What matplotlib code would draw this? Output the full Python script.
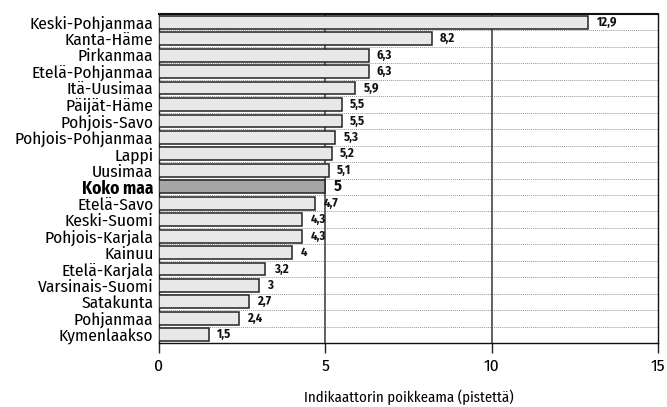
import matplotlib
matplotlib.use("Agg")
import matplotlib.pyplot as plt

regions = ["Keski-Pohjanmaa", "Kanta-Häme", "Pirkanmaa", "Etelä-Pohjanmaa", "Itä-Uusimaa",
           "Päijät-Häme", "Pohjois-Savo", "Pohjois-Pohjanmaa", "Lappi", "Uusimaa",
           "Koko maa", "Etelä-Savo", "Keski-Suomi", "Pohjois-Karjala", "Kainuu",
           "Etelä-Karjala", "Varsinais-Suomi", "Satakunta", "Pohjanmaa", "Kymenlaakso"]
values = [12.9, 8.2, 6.3, 6.3, 5.9, 5.5, 5.5, 5.3, 5.2, 5.1,
          5.0, 4.7, 4.3, 4.3, 4.0, 3.2, 3.0, 2.7, 2.4, 1.5]
value_labels = ["12,9", "8,2", "6,3", "6,3", "5,9", "5,5", "5,5", "5,3", "5,2", "5,1",
                "5", "4,7", "4,3", "4,3", "4", "3,2", "3", "2,7", "2,4", "1,5"]
total_label = "Koko maa"
xticks = [0, 5, 10, 15]
xlabel = "Indikaattorin poikkeama (pistettä)"

plt.rcParams["font.family"] = ["Fira Sans Condensed", "DejaVu Sans"]

fig = plt.figure(figsize=(6.67, 4.07), dpi=100)
ax = fig.add_axes([0.2384, 0.1572, 0.7481, 0.8084])

ypos = list(range(len(regions)))
colors = ["#a6a6a6" if r == total_label else "#e8e8e8" for r in regions]
ax.barh(ypos, values, height=0.78, color=colors, edgecolor="#222222", linewidth=1.1, zorder=3)

for y, v, lab, r in zip(ypos, values, value_labels, regions):
    big = r == total_label
    ax.annotate(lab, (v, y), xytext=(6, 0), textcoords="offset points",
                ha="left", va="center", fontweight="bold",
                fontsize=11.5 if big else 9, color="#111111", zorder=4)

ax.set_ylim(len(regions) - 0.5, -0.5)
ax.set_xlim(0, 15)
ax.set_yticks(ypos)
ax.set_yticklabels(regions, fontsize=12.5)
for t in ax.get_yticklabels():
    if t.get_text() == total_label:
        t.set_fontweight("bold")
ax.tick_params(axis="y", length=0, pad=4)
ax.set_xticks(xticks)
ax.set_xticklabels([str(t) for t in xticks], fontsize=12.5)
ax.tick_params(axis="x", length=7, width=1.0, pad=4, color="#222222")

# dotted separators
for y in range(len(regions)):
    ax.axhline(y - 0.5, color="#999999", linestyle=(0, (1, 1)), linewidth=0.7, zorder=1)
for xv in [5, 10]:
    ax.axvline(xv, color="#555555", linewidth=1.3, zorder=2)

for s in ax.spines.values():
    s.set_color("#111111")
    s.set_linewidth(1.0)
ax.spines["top"].set_linewidth(1.5)

ax.set_xlabel(xlabel, fontsize=10.7, labelpad=11)

fig.savefig("out.png", dpi=100)
